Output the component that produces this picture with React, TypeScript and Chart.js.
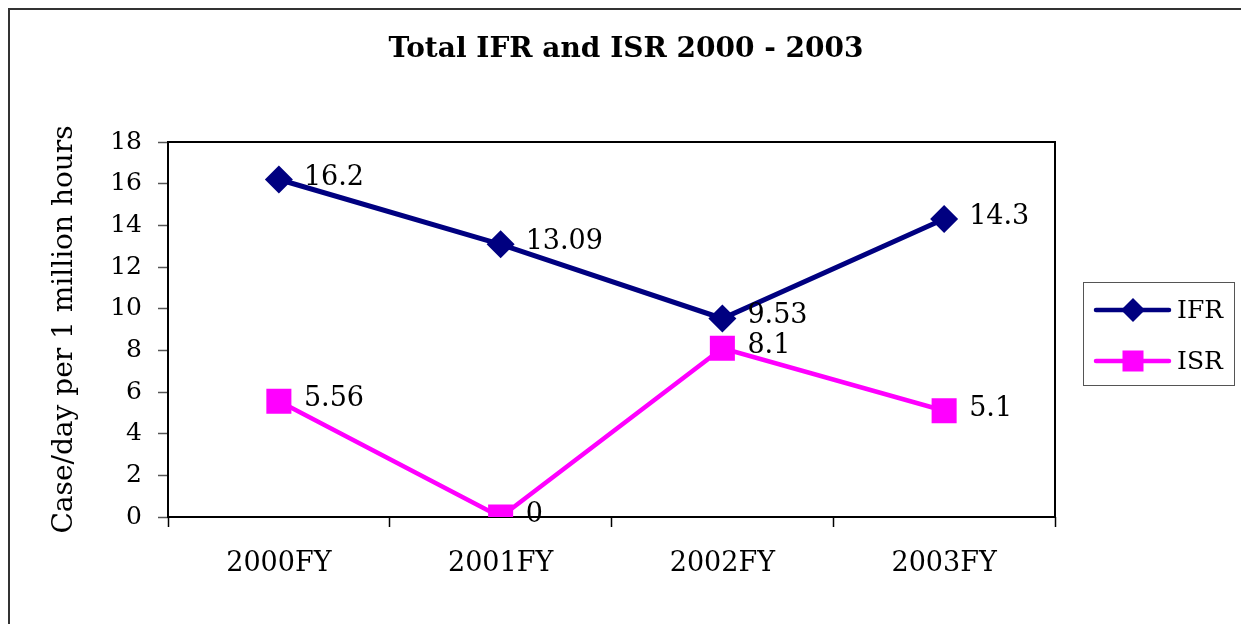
import React, { useEffect, useRef } from "react";
import { Chart, registerables } from "chart.js";

Chart.register(...registerables);

const titleText = "Total IFR and ISR 2000 - 2003";
const yAxisTitle = "Case/day per 1 million hours";
const categories = ["2000FY", "2001FY", "2002FY", "2003FY"];
const ifrValues = [16.2, 13.09, 9.53, 14.3];
const isrValues = [5.56, 0, 8.1, 5.1];
const seriesNames = ["IFR", "ISR"];
const seriesColors = ["#000080", "#FF00FF"];
const yMin = 0;
const yMax = 18;
const yStep = 2;

const FONT = "'DejaVu Serif', 'Liberation Serif', serif";
const W = 1250;
const H = 630;

const backgroundPlugin = {
  id: "bg",
  beforeDraw(chart: any) {
    const ctx = chart.ctx;
    ctx.save();
    ctx.fillStyle = "#ffffff";
    ctx.fillRect(0, 0, chart.width, chart.height);
    ctx.restore();
  },
  afterDraw(chart: any) {
    const ctx = chart.ctx;
    ctx.save();
    ctx.fillStyle = "#333333";
    ctx.fillRect(0, 0, 2, chart.height);
    ctx.fillRect(0, 0, chart.width, 2);
    ctx.fillStyle = "#000000";
    ctx.font = `bold 28px ${FONT}`;
    ctx.textAlign = "center";
    ctx.textBaseline = "alphabetic";
    ctx.fillText(titleText, 618, 49);
    ctx.restore();
  },
};

const framePlugin = {
  id: "frame",
  beforeDatasetsDraw(chart: any) {
    const { ctx, chartArea } = chart;
    ctx.save();
    ctx.strokeStyle = "#000000";
    ctx.lineWidth = 2;
    ctx.strokeRect(chartArea.left, chartArea.top, chartArea.right - chartArea.left, chartArea.bottom - chartArea.top);
    ctx.restore();
  },
};

const dataLabelPlugin = {
  id: "dataLabels",
  afterDatasetsDraw(chart: any) {
    const ctx = chart.ctx;
    ctx.save();
    ctx.font = `27px ${FONT}`;
    ctx.fillStyle = "#000000";
    ctx.textAlign = "left";
    ctx.textBaseline = "alphabetic";
    chart.data.datasets.forEach((ds: any, di: number) => {
      const meta = chart.getDatasetMeta(di);
      meta.data.forEach((pt: any, i: number) => {
        ctx.fillText(String(ds.data[i]), pt.x + 25, pt.y + 5);
      });
    });
    ctx.restore();
  },
};

const legendPlugin = {
  id: "customLegend",
  afterDraw(chart: any) {
    const ctx = chart.ctx;
    ctx.save();
    const bx = 1075, by = 274, bw = 151, bh = 103;
    ctx.strokeStyle = "#555555";
    ctx.lineWidth = 1;
    ctx.strokeRect(bx + 0.5, by + 0.5, bw, bh);
    const rows = [302, 353];
    chart.data.datasets.forEach((ds: any, di: number) => {
      const y = rows[di];
      ctx.strokeStyle = ds.borderColor;
      ctx.lineWidth = 4.5;
      ctx.lineCap = "round";
      ctx.beginPath();
      ctx.moveTo(1088, y);
      ctx.lineTo(1161, y);
      ctx.stroke();
      ctx.fillStyle = ds.borderColor;
      const cx = 1125;
      if (di === 0) {
        const r = 12;
        ctx.beginPath();
        ctx.moveTo(cx, y - r);
        ctx.lineTo(cx + r, y);
        ctx.lineTo(cx, y + r);
        ctx.lineTo(cx - r, y);
        ctx.closePath();
        ctx.fill();
      } else {
        ctx.fillRect(cx - 10.5, y - 10.5, 21, 21);
      }
      ctx.fillStyle = "#000000";
      ctx.font = `25px ${FONT}`;
      ctx.textAlign = "left";
      ctx.textBaseline = "alphabetic";
      ctx.fillText(ds.label, 1169, y + 8);
    });
    ctx.restore();
  },
};

export default function App() {
  const canvasRef = useRef<HTMLCanvasElement | null>(null);

  useEffect(() => {
    const canvas = canvasRef.current;
    if (!canvas) return;
    const chart = new Chart(canvas, {
      type: "line",
      data: {
        labels: categories,
        datasets: [
          {
            label: seriesNames[0],
            data: ifrValues,
            borderColor: seriesColors[0],
            backgroundColor: seriesColors[0],
            borderWidth: 5,
            pointStyle: "rectRot",
            pointRadius: 14,
            pointHoverRadius: 14,
            pointBorderWidth: 0,
            tension: 0,
            fill: false,
          },
          {
            label: seriesNames[1],
            data: isrValues,
            borderColor: seriesColors[1],
            backgroundColor: seriesColors[1],
            borderWidth: 4.5,
            pointStyle: "rect",
            pointRadius: 17.7,
            pointHoverRadius: 17.7,
            pointBorderWidth: 0,
            tension: 0,
            fill: false,
          },
        ],
      },
      options: {
        responsive: false,
        animation: false,
        devicePixelRatio: 1,
        layout: { padding: { left: 0, right: W - 1047, top: 134, bottom: 0 } },
        plugins: {
          legend: { display: false },
          tooltip: { enabled: false },
          title: { display: false },
        },
        scales: {
          x: {
            type: "category",
            offset: true,
            grid: {
              display: true,
              offset: true,
              drawOnChartArea: false,
              drawTicks: true,
              tickLength: 10,
              tickColor: "#000000",
              tickWidth: 1.5,
            },
            border: { display: false },
            ticks: {
              color: "#000000",
              font: { family: FONT, size: 27 },
              padding: 21,
              maxRotation: 0,
            },
            afterFit(scale: any) {
              scale.height = H - 509;
            },
          },
          y: {
            min: yMin,
            max: yMax,
            grid: {
              display: true,
              drawOnChartArea: false,
              drawTicks: true,
              tickLength: 10,
              tickColor: "#555555",
              tickWidth: 1.5,
            },
            border: { display: false },
            ticks: {
              stepSize: yStep,
              color: "#000000",
              font: { family: FONT, size: 25 },
              padding: 16,
            },
            title: {
              display: true,
              text: yAxisTitle,
              color: "#000000",
              font: { family: FONT, size: 28 },
              padding: { top: 40, bottom: 0 },
            },
            afterFit(scale: any) {
              scale.width = 160;
            },
          },
        },
      },
      plugins: [backgroundPlugin, framePlugin, dataLabelPlugin, legendPlugin],
    } as any);
    return () => chart.destroy();
  }, []);

  return (
    <div style={{ position: "fixed", left: 8, top: 8, width: W, height: H }}>
      <canvas ref={canvasRef} width={W} height={H} style={{ display: "block", width: W, height: H }} />
    </div>
  );
}
